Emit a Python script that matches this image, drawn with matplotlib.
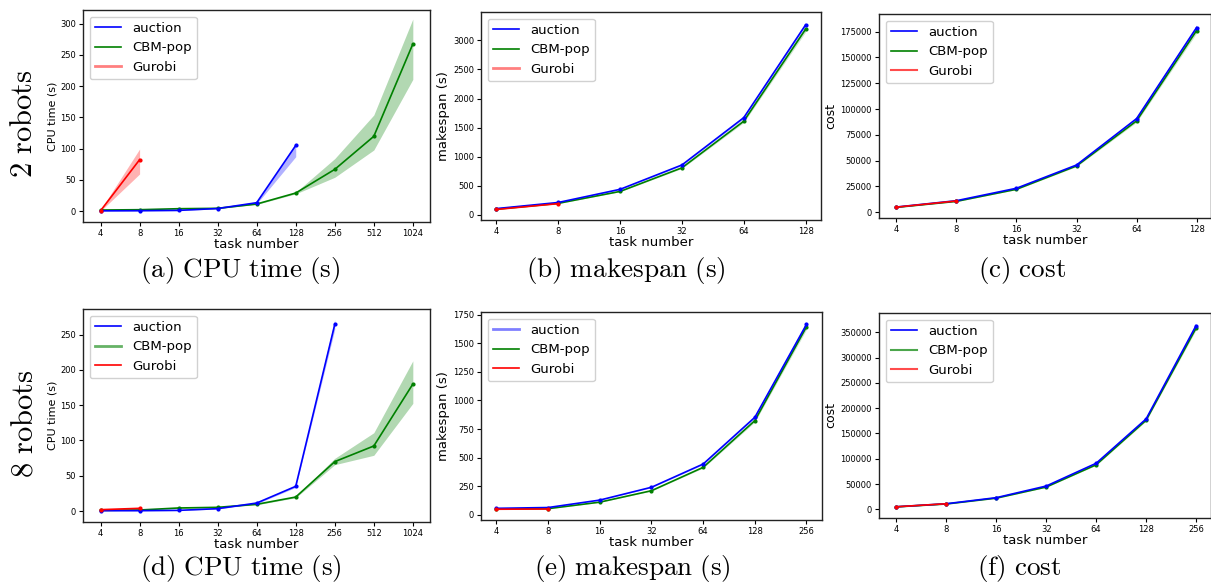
import matplotlib
matplotlib.use("Agg")
import matplotlib.pyplot as plt
from matplotlib.lines import Line2D
import numpy as np

plt.rcParams['font.family'] = ['DejaVu Sans']
plt.rcParams['mathtext.fontset'] = 'cm'

W, H = 1211, 587

# ---------------- data ----------------
tasks_cpu = ['4', '8', '16', '32', '64', '128', '256', '512', '1024']
tasks_2 = ['4', '8', '16', '32', '64', '128']
tasks_8 = ['4', '8', '16', '32', '64', '128', '256']

# (a) CPU time, 2 robots
a_auction = [0.3, 0.5, 1.0, 4.0, 13.3, 105.0]
a_auction_lo = [0.0, 0.2, 0.6, 3.5, 11.5, 87.0]
a_auction_hi = [0.6, 0.8, 1.4, 4.5, 15.0, 108.4]
a_cbm = [1.6, 2.1, 3.7, 4.3, 11.2, 28.8, 66.7, 119.6, 267.5]
a_cbm_lo = [1.2, 1.7, 3.2, 3.9, 10.5, 27.5, 54.0, 97.7, 210.8]
a_cbm_hi = [2.0, 2.5, 4.2, 4.8, 12.0, 30.0, 84.0, 153.8, 307.5]
a_gurobi = [0.5, 82.2]
a_gurobi_lo = [0.0, 59.3]
a_gurobi_hi = [2.0, 99.3]

# (b) makespan, 2 robots
b_auction = [110, 215, 441, 859, 1671, 3263]
b_cbm = [100, 200, 405, 810, 1610, 3189]
b_gurobi = [95, 195]

# (c) cost, 2 robots
c_auction = [5100, 11250, 23300, 45800, 90700, 178900]
c_cbm = [4800, 10600, 22300, 44900, 88500, 176000]
c_gurobi = [5000, 11000]

# (d) CPU time, 8 robots
d_auction = [0.5, 0.5, 0.9, 3.3, 11.3, 35.0, 264.6]
d_auction_lo = [0.2, 0.2, 0.6, 2.8, 10.3, 33.5, 257.6]
d_auction_hi = [0.8, 0.8, 1.2, 3.8, 12.3, 36.5, 271.7]
d_cbm = [0.9, 1.4, 4.3, 5.2, 9.5, 19.8, 70.0, 92.2, 180.0]
d_cbm_lo = [0.6, 1.1, 3.8, 4.7, 8.8, 18.8, 65.7, 79.0, 152.6]
d_cbm_hi = [1.2, 1.7, 4.8, 5.7, 10.2, 20.8, 74.7, 111.0, 213.0]
d_gurobi = [1.9, 3.8]
d_gurobi_lo = [1.0, 2.5]
d_gurobi_hi = [2.8, 5.0]

# (e) makespan, 8 robots
e_auction = [58, 65, 130, 242, 445, 853, 1665]
e_cbm = [52, 55, 112, 212, 416, 824, 1645]
e_gurobi = [50, 52]

# (f) cost, 8 robots
f_auction = [5000, 11000, 23000, 46000, 91000, 178600, 363000]
f_cbm = [4800, 10500, 22000, 44000, 88000, 176000, 358000]
f_gurobi = [5000, 11000]

captions = [r'$\mathrm{(a)\ CPU\ time\ (s)}$', r'$\mathrm{(b)\ makespan\ (s)}$', r'$\mathrm{(c)\ cost}$',
            r'$\mathrm{(d)\ CPU\ time\ (s)}$', r'$\mathrm{(e)\ makespan\ (s)}$', r'$\mathrm{(f)\ cost}$']
row_labels = [r'$\mathrm{2\ robots}$', r'$\mathrm{8\ robots}$']

BLUE, GREEN, RED = 'blue', 'green', 'red'

fig = plt.figure(figsize=(W / 100, H / 100), dpi=100)


def add_ax(l, t, r, b):
    return fig.add_axes([l / W, 1 - b / H, (r - l) / W, (b - t) / H])


def series(ax, labels, y, color, lo=None, hi=None, rel=None, alpha=0.3):
    x = np.arange(len(y))
    ax.plot(x, y, color=color, lw=1.2, marker='.', ms=4, zorder=3)
    if lo is not None:
        ax.fill_between(x, lo, hi, color=color, alpha=alpha, lw=0, zorder=2)
    elif rel is not None:
        yy = np.array(y, dtype=float)
        ax.fill_between(x, yy * (1 - rel), yy * (1 + rel), color=color, alpha=0.2, lw=0, zorder=2)


def style(ax, ticks, ylabel, ylab_size=9.5, xlim=None, ylim=None):
    ax.set_xticks(np.arange(len(ticks)))
    ax.set_xticklabels(ticks)
    ax.tick_params(labelsize=6, length=3, width=0.8, pad=2)
    ax.set_xlabel('task number', fontsize=9.5, labelpad=0)
    ax.set_ylabel(ylabel, fontsize=ylab_size, labelpad=2)
    if xlim is not None:
        ax.set_xlim(*xlim)
    if ylim is not None:
        ax.set_ylim(*ylim)
    for s in ax.spines.values():
        s.set_color('#222222')
        s.set_linewidth(1.0)


def legend(ax, specs):
    handles = [Line2D([0], [0], color=c, lw=lw, alpha=al) for c, lw, al in specs]
    ax.legend(handles, ['auction', 'CBM-pop', 'Gurobi'], loc='upper left', fontsize=9.5,
              borderaxespad=0.5, handlelength=2.0, labelspacing=0.5, framealpha=0.9)


# (a)
ax = add_ax(83, 10, 430, 222)
series(ax, tasks_cpu, a_cbm, GREEN, a_cbm_lo, a_cbm_hi)
series(ax, tasks_cpu, a_auction, BLUE, a_auction_lo, a_auction_hi)
series(ax, tasks_cpu, a_gurobi, RED, a_gurobi_lo, a_gurobi_hi)
style(ax, tasks_cpu, 'CPU time (s)', ylab_size=8, xlim=(-0.45, 8.44), ylim=(-17.6, 322))
legend(ax, [(BLUE, 1.2, 1), (GREEN, 1.2, 1), (RED, 2, 0.5)])

# (b)
ax = add_ax(481, 12, 821, 220)
series(ax, tasks_2, b_cbm, GREEN, rel=0.015)
series(ax, tasks_2, b_auction, BLUE, rel=0.015)
series(ax, tasks_2, b_gurobi, RED, rel=0.01)
style(ax, tasks_2, 'makespan (s)', ylim=(-86, 3486))
legend(ax, [(BLUE, 1.2, 1), (GREEN, 1.2, 1), (RED, 2, 0.5)])

# (c)
ax = add_ax(879, 14, 1211, 218)
series(ax, tasks_2, c_cbm, GREEN, rel=0.015)
series(ax, tasks_2, c_auction, BLUE, rel=0.015)
series(ax, tasks_2, c_gurobi, RED, rel=0.01)
style(ax, tasks_2, 'cost', ylab_size=9, xlim=(-0.29, 5.24), ylim=(-5500, 192000))
legend(ax, [(BLUE, 1.2, 1), (GREEN, 1.2, 1), (RED, 1.5, 0.7)])

# (d)
ax = add_ax(83, 309, 430, 522)
series(ax, tasks_cpu, d_cbm, GREEN, d_cbm_lo, d_cbm_hi)
series(ax, tasks_cpu, d_auction, BLUE, d_auction_lo, d_auction_hi)
series(ax, tasks_cpu, d_gurobi, RED, d_gurobi_lo, d_gurobi_hi)
style(ax, tasks_cpu, 'CPU time (s)', ylab_size=8, xlim=(-0.45, 8.44), ylim=(-15.6, 286.5))
legend(ax, [(BLUE, 1.2, 1), (GREEN, 2, 0.6), (RED, 1.2, 1)])

# (e)
ax = add_ax(481, 312, 822, 520)
series(ax, tasks_8, e_cbm, GREEN, rel=0.015)
series(ax, tasks_8, e_auction, BLUE, rel=0.015)
series(ax, tasks_8, e_gurobi, RED, rel=0.01)
style(ax, tasks_8, 'makespan (s)', ylim=(-44, 1773))
legend(ax, [(BLUE, 2, 0.5), (GREEN, 1.2, 1), (RED, 1.2, 1)])

# (f)
ax = add_ax(879, 313, 1211, 518)
series(ax, tasks_8, f_cbm, GREEN, rel=0.01)
series(ax, tasks_8, f_auction, BLUE, rel=0.01)
series(ax, tasks_8, f_gurobi, RED, rel=0.01)
style(ax, tasks_8, 'cost', ylab_size=9, xlim=(-0.35, 6.3), ylim=(-17200, 388000))
legend(ax, [(BLUE, 1.2, 1), (GREEN, 1.5, 0.7), (RED, 1.5, 0.7)])

# captions
cap_pos = [(240, 271), (626, 271), (1022, 271), (241, 569), (632, 569), (1019, 569)]
for txt, (x, y) in zip(captions, cap_pos):
    fig.text(x / W, 1 - y / H, txt, fontsize=19.5, ha='center', va='center')

for txt, y in zip(row_labels, [124, 424]):
    fig.text(24 / W, 1 - y / H, txt, fontsize=22, rotation=90, ha='center', va='center')

fig.savefig('out.png', dpi=100)
